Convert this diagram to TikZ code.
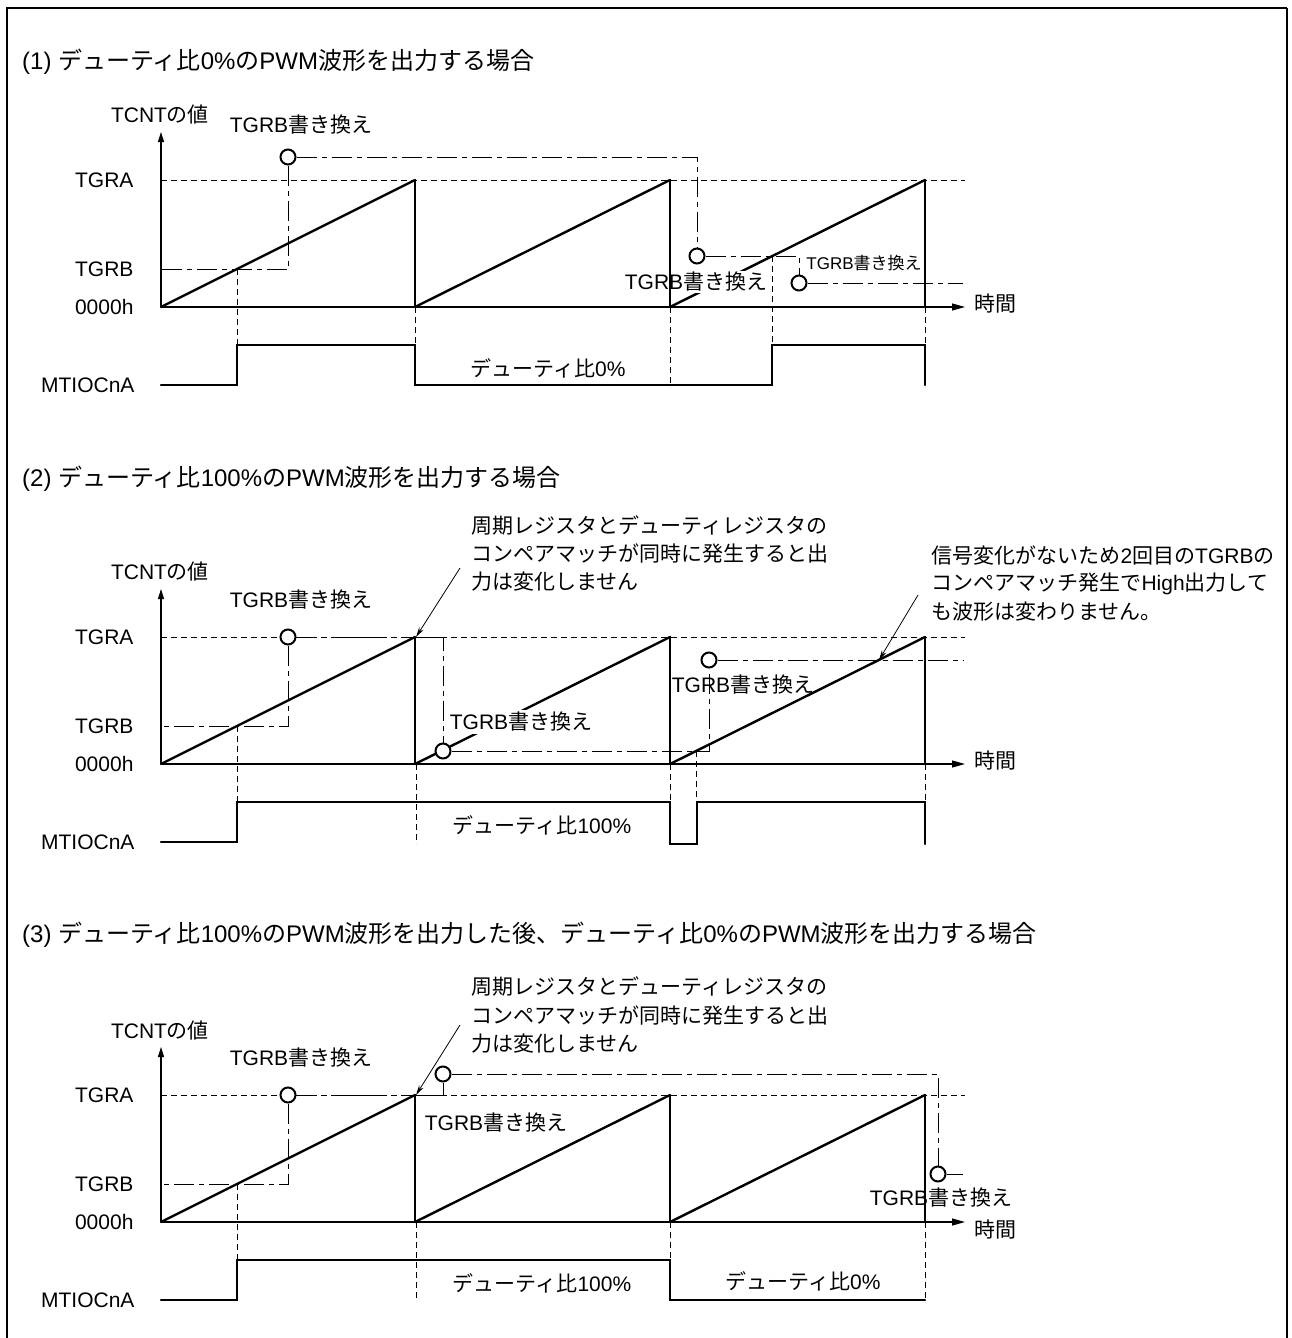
\documentclass[tikz,border=0pt]{standalone}
\usepackage{fontspec}
\setmainfont{Liberation Sans}
\newfontfamily\jfont{Noto Sans CJK JP}
% switch to the Japanese font for kana and kanji
\XeTeXinterchartokenstate=1
\newXeTeXintercharclass\jclass
\newcount\jcnt
\def\setjrange#1#2{\jcnt=#1 \loop \XeTeXcharclass\jcnt=\jclass \advance\jcnt by 1 \ifnum\jcnt<#2 \repeat}
\setjrange{"3000}{"3100}
\setjrange{"4E00}{"A000}
\setjrange{"FF00}{"FFF0}
\XeTeXinterchartoks 0 \jclass = {\jfont}
\XeTeXinterchartoks 4095 \jclass = {\jfont}
\XeTeXinterchartoks \jclass 0 = {\normalfont}
\XeTeXinterchartoks \jclass 4095 = {\normalfont}
\usetikzlibrary{arrows.meta}

\tikzset{
  wave/.style={line width=2.4pt, line cap=round},
  guide/.style={line width=0.9pt, dash pattern=on 6pt off 4pt},
  dashdot/.style={line width=0.9pt, dash pattern=on 20pt off 5pt on 5pt off 5pt},
  axis/.style={line width=1.2pt},
  ringmark/.style={circle, draw, fill=white, line width=2pt, minimum size=15pt, inner sep=0pt},
  lbl/.style={inner sep=0pt},
  smalllbl/.style={inner sep=0pt, font=\fontsize{17}{20}\selectfont},
  titlelbl/.style={anchor=west, inner sep=0pt, font=\fontsize{24}{28}\selectfont},
  notearrow/.style={line width=0.8pt, -{Stealth[length=10pt,width=5pt]}},
}

\begin{document}
\begin{tikzpicture}[x=1pt,y=-1pt,font=\fontsize{21}{25}\selectfont]
  \useasboundingbox (0,0) rectangle (1291,1338);
  % frame
  \draw[line width=2.5pt] (7,1345) |- (1287,8);
  \draw[line width=1.6pt] (1287,8) -- (1287,1345);

  % Panel 1: duty 0%
  \begin{scope}
    \node[titlelbl] (title1) at (22,62) {(1) デューティ比0\%のPWM波形を出力する場合};
    \node (tcnt1) at (160,115) {TCNTの値};
    \node[anchor=east] (tgra1) at (137,180) {TGRA};
    \node[anchor=east] (tgrb1) at (137,269) {TGRB};
    \node[anchor=east] (zero1) at (137,307) {0000h};
    \node[anchor=east] (mtio1) at (138,385) {MTIOCnA};
    \node[anchor=west] (time1) at (971,304) {時間};
    \draw[guide] (161,180) -- (965,180);
    \draw[guide] (237,269) -- (237,345) (415,307) -- (415,385) (670,307) -- (670,387)
      (772,256) -- (772,345) (925,307) -- (925,387);
    \draw[axis,-{Triangle[length=10pt,width=6pt]}] (161,307) -- (161,132);
    \draw[axis,-{Triangle[length=13pt,width=7pt]}] (161,307) -- (965,307);
    \draw[wave] (161,307) -- (415,180) (415,307) -- (670,180) (670,307) -- (925,180);
    \coordinate (b1) at (161,269);
    \coordinate (e13) at (963,283);
    \node[ringmark] (c11) at (288,157) {};
    \node[ringmark] (c12) at (697,256) {};
    \node[ringmark] (c13) at (799,283) {};
    \draw[dashdot] (c11) |- (b1);
    \draw[dashdot] (c11) -| (c12);
    \draw[dashdot] (c12) -| (c13);
    \draw[dashdot] (c13) -- (e13);
    \node[lbl] (w11) at (301,125) {TGRB書き換え};
    \node[lbl,fill=white,inner sep=1pt] (w12) at (696,282) {TGRB書き換え};
    \node[smalllbl] (w13) at (864,263) {TGRB書き換え};
    \draw[wave] (415,180) -- (415,307) (670,180) -- (670,307) (925,180) -- (925,307);
    \draw[wave] (161,385) -| (237,345) -| (415,385) -| (772,345) -| (925,385);
    \node (duty1) at (548,368) {デューティ比0\%};
  \end{scope}

  % Panel 2: duty 100%
  \begin{scope}[shift={(0,457)}]
    \node[titlelbl] (title2) at (22,22) {(2) デューティ比100\%のPWM波形を出力する場合};
    \node[anchor=west] (n2a) at (468,68) {周期レジスタとデューティレジスタの};
    \node[anchor=west] (n2b) at (468,97) {コンペアマッチが同時に発生すると出};
    \node[anchor=west] (n2c) at (468,125) {力は変化しません};
    \node[anchor=west] (n2d) at (928,98) {信号変化がないため2回目のTGRBの};
    \node[anchor=west] (n2e) at (928,127) {コンペアマッチ発生でHigh出力して};
    \node[anchor=west] (n2f) at (928,155) {も波形は変わりません。};
    \node (tcnt2) at (160,115) {TCNTの値};
    \node[anchor=east] (tgra2) at (137,180) {TGRA};
    \node[anchor=east] (tgrb2) at (137,269) {TGRB};
    \node[anchor=east] (zero2) at (137,307) {0000h};
    \node[anchor=east] (mtio2) at (138,385) {MTIOCnA};
    \node[anchor=west] (time2) at (971,304) {時間};
    \draw[guide] (161,180) -- (965,180);
    \draw[guide] (237,269) -- (237,345) (416,307) -- (416,387) (670,307) -- (670,387)
      (696,294) -- (696,345) (925,307) -- (925,387);
    \draw[axis,-{Triangle[length=10pt,width=6pt]}] (161,307) -- (161,132);
    \draw[axis,-{Triangle[length=13pt,width=7pt]}] (161,307) -- (965,307);
    \draw[wave] (161,307) -- (415,180) (415,307) -- (670,180) (670,307) -- (925,180);
    \coordinate (b2) at (161,269);
    \coordinate (e23) at (963,203);
    \node[ringmark] (c21) at (288,180) {};
    \node[ringmark] (c22) at (443,294) {};
    \node[ringmark] (c23) at (709,203) {};
    \draw[dashdot] (c21) |- (b2);
    \draw[dashdot] (c21) -| (c22);
    \draw[dashdot] (c22) -| (c23);
    \draw[dashdot] (c23) -- (e23);
    \node[lbl] (w21) at (301,143) {TGRB書き換え};
    \node[lbl,fill=white,inner sep=2pt] (w22) at (521,265) {TGRB書き換え};
    \node[lbl] (w23) at (743,228) {TGRB書き換え};
    \draw[wave] (415,180) -- (415,307) (670,180) -- (670,307) (925,180) -- (925,307);
    \draw[wave] (161,385) -| (237,345) -| (670,387) -| (697,345) -| (925,387);
    \node (duty2) at (542,368) {デューティ比100\%};
    \coordinate (pk2) at (416,180);
    \coordinate (t2a) at (460,111);
    \coordinate (hit2) at (879,203);
    \coordinate (t2b) at (918,138);
    \draw[notearrow] (t2a) -- (pk2);
    \draw[notearrow] (t2b) -- (hit2);
  \end{scope}

  % Panel 3: duty 100% then 0%
  \begin{scope}[shift={(0,915)}]
    \node[titlelbl] (title3) at (22,20) {(3) デューティ比100\%のPWM波形を出力した後、デューティ比0\%のPWM波形を出力する場合};
    \node[anchor=west] (n3a) at (468,71) {周期レジスタとデューティレジスタの};
    \node[anchor=west] (n3b) at (468,100) {コンペアマッチが同時に発生すると出};
    \node[anchor=west] (n3c) at (468,129) {力は変化しません};
    \node (tcnt3) at (160,115) {TCNTの値};
    \node[anchor=east] (tgra3) at (137,180) {TGRA};
    \node[anchor=east] (tgrb3) at (137,269) {TGRB};
    \node[anchor=east] (zero3) at (137,307) {0000h};
    \node[anchor=east] (mtio3) at (138,385) {MTIOCnA};
    \node[anchor=west] (time3) at (971,315) {時間};
    \draw[guide] (161,180) -- (965,180);
    \draw[guide] (237,269) -- (237,345) (416,307) -- (416,385) (670,307) -- (670,345)
      (925,307) -- (925,385);
    \draw[axis,-{Triangle[length=10pt,width=6pt]}] (161,307) -- (161,132);
    \draw[axis,-{Triangle[length=13pt,width=7pt]}] (161,307) -- (965,307);
    \draw[wave] (161,307) -- (415,180) (415,307) -- (670,180) (670,307) -- (925,180);
    \coordinate (b3) at (161,269);
    \coordinate (e33) at (963,259);
    \node[ringmark] (c31) at (288,180) {};
    \node[ringmark] (c32) at (443,159) {};
    \node[ringmark] (c33) at (938,259) {};
    \draw[dashdot] (c31) |- (b3);
    \draw[dashdot] (c31) -| (c32);
    \draw[dashdot] (c32) -| (c33);
    \draw[dashdot] (c33) -- (e33);
    \node[lbl] (w31) at (301,143) {TGRB書き換え};
    \node[lbl] (w32) at (496,208) {TGRB書き換え};
    \node[lbl] (w33) at (941,283) {TGRB書き換え};
    \draw[wave] (415,180) -- (415,307) (670,180) -- (670,307) (925,180) -- (925,307);
    \draw[wave] (161,385) -| (237,345) -| (670,385) -- (925,385);
    \node (duty3) at (542,368) {デューティ比100\%};
    \node (duty4) at (803,366) {デューティ比0\%};
    \coordinate (pk3) at (416,180);
    \coordinate (t3a) at (460,110);
    \draw[notearrow] (t3a) -- (pk3);
  \end{scope}
\end{tikzpicture}
\end{document}
